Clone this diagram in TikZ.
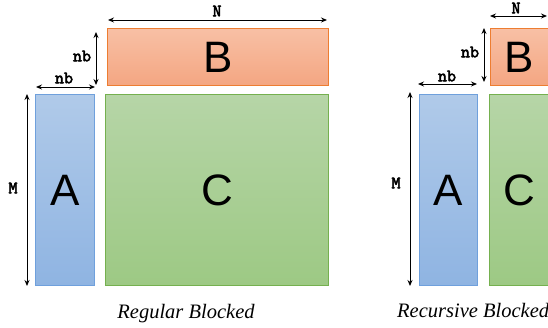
\documentclass[tikz,border=0pt]{standalone}
\usepackage{fontspec}
\setmainfont{Liberation Serif}
\setsansfont{Liberation Sans}
\newfontfamily\dimfont[AutoFakeBold=3]{Latin Modern Mono}
\usetikzlibrary{arrows.meta}
\begin{document}
\begin{tikzpicture}[x=1pt,y=-1pt,
  blk/.style={draw, line width=0.9pt, inner sep=0pt, anchor=north west,
    font=\sffamily\fontsize{44}{44}\selectfont},
  bblk/.style={blk, draw={rgb,255:red,237;green,125;blue,49},
    top color={rgb,255:red,248;green,192;blue,165}, bottom color={rgb,255:red,244;green,166;blue,130}},
  ablk/.style={blk, draw={rgb,255:red,111;green,160;blue,220},
    top color={rgb,255:red,176;green,202;blue,233}, bottom color={rgb,255:red,143;green,180;blue,226}},
  cblk/.style={blk, draw={rgb,255:red,117;green,176;blue,79},
    top color={rgb,255:red,182;green,213;blue,167}, bottom color={rgb,255:red,157;green,201;blue,132}},
  dim/.style={{Stealth[length=6pt,width=5pt]}-{Stealth[length=6pt,width=5pt]}, line width=0.9pt},
  lbl/.style={font=\dimfont\bfseries\fontsize{17.5}{17.5}\selectfont, inner sep=0pt},
  captext/.style={font=\itshape\fontsize{20.5}{20.5}\selectfont, inner sep=0pt}]
\useasboundingbox (0,0) rectangle (548,328);
% ---------- Regular Blocked ----------
\node[bblk, minimum width=221pt, minimum height=57pt] (B1) at (107,28) {B};
\node[ablk, minimum width=59pt, minimum height=191pt] (A1) at (35,94) {A};
\node[cblk, minimum width=223pt, minimum height=191pt] (C1) at (105,94) {C};
\coordinate (n1a) at (108,20); \coordinate (n1b) at (327,20);
\draw[dim] (n1a) -- (n1b);
\node[lbl] (N1) at (217,11) {N};
\coordinate (v1a) at (96,32); \coordinate (v1b) at (96,85);
\draw[dim] (v1a) -- (v1b);
\node[lbl] (nbv1) at (82,56) {nb};
\coordinate (h1a) at (36,87); \coordinate (h1b) at (95,87);
\draw[dim] (h1a) -- (h1b);
\node[lbl] (nbh1) at (64,78) {nb};
\coordinate (m1a) at (27,94); \coordinate (m1b) at (27,286);
\draw[dim] (m1a) -- (m1b);
\node[lbl] (M1) at (13,188) {M};
\node[captext] (cap1) at (186,314) {Regular Blocked};
% ---------- Recursive Blocked ----------
\node[bblk, minimum width=58pt, minimum height=57pt] (B2) at (490,28) {B};
\node[ablk, minimum width=58pt, minimum height=191pt] (A2) at (419,94) {A};
\node[cblk, minimum width=60pt, minimum height=191pt] (C2) at (489,94) {C};
\coordinate (n2a) at (490,16); \coordinate (n2b) at (547,16);
\draw[dim] (n2a) -- (n2b);
\node[lbl] (N2) at (516,8) {N};
\coordinate (v2a) at (484,28); \coordinate (v2b) at (484,82);
\draw[dim] (v2a) -- (v2b);
\node[lbl] (nbv2) at (470,52) {nb};
\coordinate (h2a) at (418,84); \coordinate (h2b) at (477,84);
\draw[dim] (h2a) -- (h2b);
\node[lbl] (nbh2) at (447,76) {nb};
\coordinate (m2a) at (410,92); \coordinate (m2b) at (410,286);
\draw[dim] (m2a) -- (m2b);
\node[lbl] (M2) at (396,183) {M};
\node[captext, anchor=west] (cap2) at (397,311) {Recursive Blocked};
\end{tikzpicture}
\end{document}
